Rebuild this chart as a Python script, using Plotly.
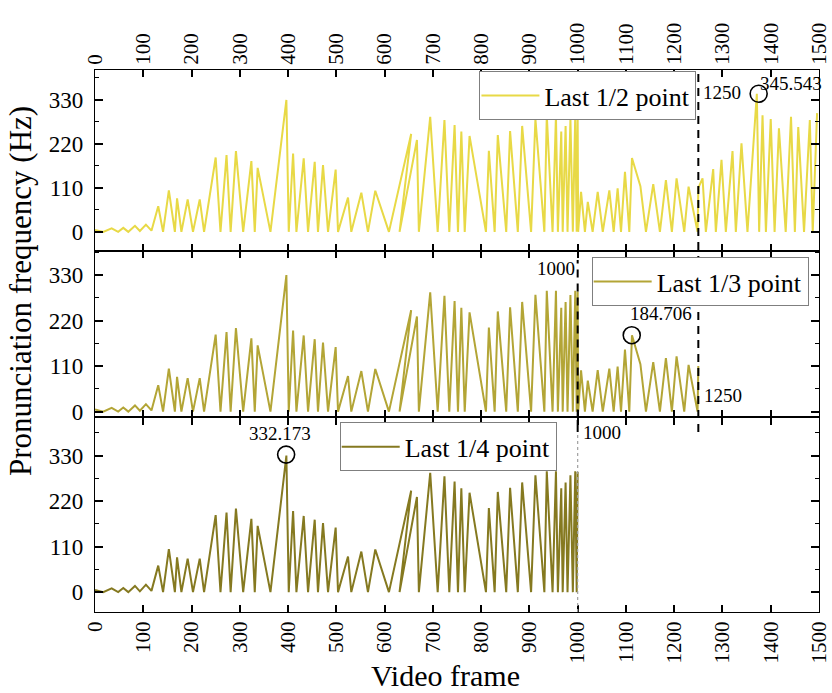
import plotly.graph_objects as go

# ---- data ----
frames = [0, 17, 34.5, 48, 58.6, 69, 82.8, 93, 105.5, 117,
          131, 141, 153, 165.5, 170, 179, 192, 203, 217, 226,
          250, 260, 272.5, 281, 292, 307, 324, 331, 337, 363.5,
          396.5, 401.4, 410.4, 417.3, 432.4, 441.4, 455.2, 462, 472.4, 482.8,
          498.6, 503.5, 524.2, 531, 551.8, 565.5, 580.7, 609, 655, 631,
          667, 671, 694.5, 710, 724, 734, 745, 752, 759, 766,
          776, 810, 816, 828, 834.5, 852, 860, 876, 885, 903.5,
          912.5, 931, 936, 948, 955, 959, 966, 969, 975, 979,
          985, 990, 995, 998, 1000, 1001,
          1007, 1015, 1021, 1031, 1041.5, 1052, 1065.6, 1074.6, 1082.8, 1089.8,
          1098, 1107, 1112.5, 1130, 1141.5, 1156.6, 1170.4, 1182.8, 1195.2, 1204.9,
          1220.8, 1229.8, 1248.4, 1250,
          1258.7, 1265.6, 1280.8, 1286.3, 1298, 1307, 1320.8, 1327.7, 1339.4, 1351.8,
          1371.2, 1376, 1383, 1390, 1400, 1408, 1417, 1431, 1442, 1450,
          1457, 1469, 1481, 1487, 1496]
hz = [5, 0, 9, 0, 10, 0, 15, 2, 18, 3,
      64, 0, 104, 0, 84, 0, 81, 0, 81, 0,
      186, 0, 192, 0, 202, 0, 177, 0, 160, 0,
      330, 0, 196, 0, 184, 0, 175, 0, 167, 0,
      156, 0, 86, 0, 98, 0, 103, 0, 245, 0,
      230, 0, 288, 0, 280, 0, 267, 0, 251, 0,
      240, 0, 203, 0, 242, 0, 252, 0, 265, 0,
      282, 0, 292, 0, 292, 0, 251, 0, 265, 0,
      282, 0, 292, 0, 290, 0,
      100, 0, 75, 0, 100, 0, 104, 0, 109, 0,
      150, 0, 184.7, 114.5, 0, 119.5, 0, 129.6, 0, 133.7,
      0, 113, 0, 110,
      134, 0, 157, 0, 180, 0, 202, 0, 221.5, 0,
      345.5, 0, 292, 0, 282, 0, 259, 0, 288, 0,
      262, 0, 280, 0, 297]

series_names = ["Last 1/2 point", "Last 1/3 point", "Last 1/4 point"]
series_end = [1500, 1250, 1000]
series_colors = ["#e8d946", "#b3a536", "#857920"]

peak_frames = [1375, 1112, 396]
peak_values = [345.543, 184.706, 332.173]
peak_labels = ["345.543", "184.706", "332.173"]

ytick_vals = [0, 110, 220, 330]
xtick_vals = list(range(0, 1501, 100))

FONT = "Liberation Serif"

fig = go.Figure()

legends = ["legend", "legend2", "legend3"]
for i in range(3):
    xs = [f for f in frames if f <= series_end[i]]
    ys = [h for f, h in zip(frames, hz) if f <= series_end[i]]
    fig.add_trace(go.Scatter(
        x=xs, y=ys, mode="lines", name=series_names[i],
        line=dict(color=series_colors[i], width=2),
        xaxis="x" if i == 0 else f"x{i+1}",
        yaxis="y" if i == 0 else f"y{i+1}",
        legend=legends[i]))

for i in range(3):
    fig.add_trace(go.Scatter(
        x=[peak_frames[i]], y=[peak_values[i]], mode="markers",
        marker=dict(symbol="circle-open", size=17, color="black", line=dict(width=1.6)),
        showlegend=False,
        xaxis="x" if i == 0 else f"x{i+1}",
        yaxis="y" if i == 0 else f"y{i+1}"))

domains = [[0.666, 1.0], [0.359, 0.666], [0.0, 0.359]]
yranges = [[-48, 405], [-14, 388], [-48, 422]]

def xaxis_cfg(i):
    d = dict(range=[0, 1500], domain=[0, 1], tickvals=xtick_vals, automargin=False,
             ticks="inside", ticklen=7, tickwidth=1.5, tickcolor="black",
             showline=True, linecolor="black", linewidth=1.2, mirror="allticks",
             showgrid=False, zeroline=False, tickangle=-90,
             tickfont=dict(family=FONT, size=21, color="black"))
    if i == 0:
        d.update(side="top", anchor="y", showticklabels=True)
    elif i == 1:
        d.update(anchor="y2", showticklabels=False)
    else:
        d.update(anchor="y3", side="bottom", showticklabels=True)
    return d

def yaxis_cfg(i):
    return dict(range=yranges[i], domain=domains[i], tickvals=ytick_vals, automargin=False,
                ticks="inside", ticklen=8, tickwidth=1.5, tickcolor="black",
                minor=dict(tickmode="linear", tick0=0, dtick=55, ticks="inside",
                           ticklen=4, tickwidth=1.2, tickcolor="black"),
                showline=True, linecolor="black", linewidth=1.2, mirror="allticks",
                showgrid=False, zeroline=False, ticklabelstandoff=6,
                anchor="x" if i == 0 else f"x{i+1}",
                tickfont=dict(family=FONT, size=23, color="black"))

fig.update_layout(
    width=832, height=693,
    margin=dict(l=95, r=13, t=70, b=81),
    paper_bgcolor="white", plot_bgcolor="white",
    showlegend=True,
    xaxis=xaxis_cfg(0), xaxis2=xaxis_cfg(1), xaxis3=xaxis_cfg(2),
    yaxis=yaxis_cfg(0), yaxis2=yaxis_cfg(1), yaxis3=yaxis_cfg(2),
)

leg_pos = [(0.531, 0.998), (0.686, 0.655), (0.338, 0.350)]
for i, name in enumerate(legends):
    fig.update_layout(**{name: dict(
        x=leg_pos[i][0], y=leg_pos[i][1], xanchor="left", yanchor="top",
        bgcolor="white", bordercolor="#7f7f7f", borderwidth=1,
        font=dict(family=FONT, size=26, color="black"),
        itemwidth=58, tracegroupgap=0, indentation=-4)})

def py(p):
    return (612 - p) / 542

dash = "8px,6px"
# vertical dashed reference lines
fig.add_shape(type="line", xref="x", yref="paper", x0=1250, x1=1250, y0=py(432), y1=py(73),
              line=dict(color="black", width=2, dash=dash))
fig.add_shape(type="line", xref="x", yref="paper", x0=1000, x1=1000, y0=py(417.5), y1=py(260),
              line=dict(color="black", width=2, dash=dash))
fig.add_shape(type="line", xref="x", yref="paper", x0=1000, x1=1000, y0=py(432), y1=py(420),
              line=dict(color="black", width=2))
fig.add_shape(type="line", xref="x", yref="paper", x0=1000, x1=1000, y0=py(612), y1=py(432),
              line=dict(color="#a0a0a0", width=1.2, dash="dot"))

def px_to_frame(p):
    return (p - 95) / 724 * 1500

labels = [("1250", 722, 93), ("1000", 556, 268), ("1250", 723, 395), ("1000", 602, 433)]
for t, xx, yy in labels:
    fig.add_annotation(text=t, x=px_to_frame(xx), y=py(yy), xref="x", yref="paper",
                       showarrow=False, font=dict(family=FONT, size=19, color="black"),
                       xanchor="center", yanchor="middle")

# peak value labels
peak_offsets = [(32, -10), (29, -22), (-6, -21)]
for i in range(3):
    fig.add_annotation(text=peak_labels[i], x=peak_frames[i], y=peak_values[i],
                       xref="x" if i == 0 else f"x{i+1}",
                       yref="y" if i == 0 else f"y{i+1}",
                       showarrow=False, xshift=peak_offsets[i][0], yshift=-peak_offsets[i][1],
                       font=dict(family=FONT, size=19, color="black"))

# axis titles
fig.add_annotation(text="Pronunciation frequency (Hz)", xref="paper", yref="paper",
                   x=(20 - 95) / 724, y=py(291), textangle=-90, showarrow=False,
                   font=dict(family=FONT, size=31, color="black"),
                   xanchor="center", yanchor="middle")
fig.add_annotation(text="Video frame", xref="paper", yref="paper",
                   x=(445 - 95) / 724, y=py(675), showarrow=False,
                   font=dict(family=FONT, size=30, color="black"),
                   xanchor="center", yanchor="middle")

fig.write_html("out.html")
